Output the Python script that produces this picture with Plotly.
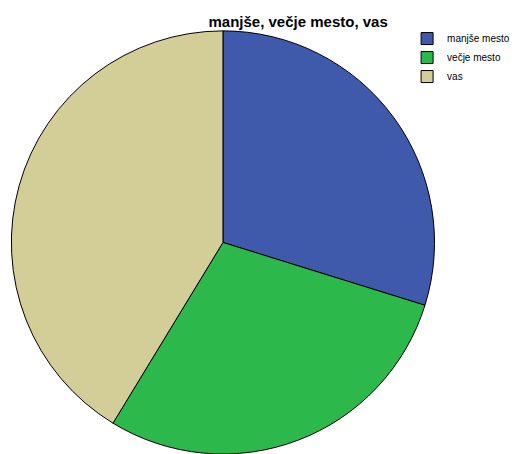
import plotly.graph_objects as go

categories = ["manjše mesto", "večje mesto", "vas"]
values = [29.8, 28.9, 41.3]
colors = ["#3f59ab", "#2db84b", "#d3cd98"]

fig = go.Figure(go.Pie(
    labels=categories,
    values=values,
    sort=False,
    direction="clockwise",
    rotation=0,
    textinfo="none",
    hoverinfo="label+percent",
    marker=dict(colors=colors, line=dict(color="black", width=1)),
    domain=dict(x=[0.0195, 0.848], y=[0.0, 0.932]),
))

fig.update_layout(
    width=514, height=454,
    margin=dict(l=0, r=0, t=0, b=0, autoexpand=False),
    paper_bgcolor="white",
    plot_bgcolor="white",
    title=dict(text="<b>manjše, večje mesto, vas</b>", x=0.58, xanchor="center",
               y=0.953, yanchor="middle",
               font=dict(family="Liberation Sans, Arial", size=15, color="black")),
    legend=dict(x=0.792, y=0.947, xanchor="left", yanchor="top",
                font=dict(family="Liberation Sans, Arial", size=10, color="black"),
                itemwidth=30, tracegroupgap=0, bgcolor="rgba(0,0,0,0)"),
    font=dict(family="Liberation Sans, Arial"),
)

fig.write_html("out.html",
               config={"displayModeBar": False},
               post_script="document.body.style.margin='0';document.body.style.overflow='hidden';")
